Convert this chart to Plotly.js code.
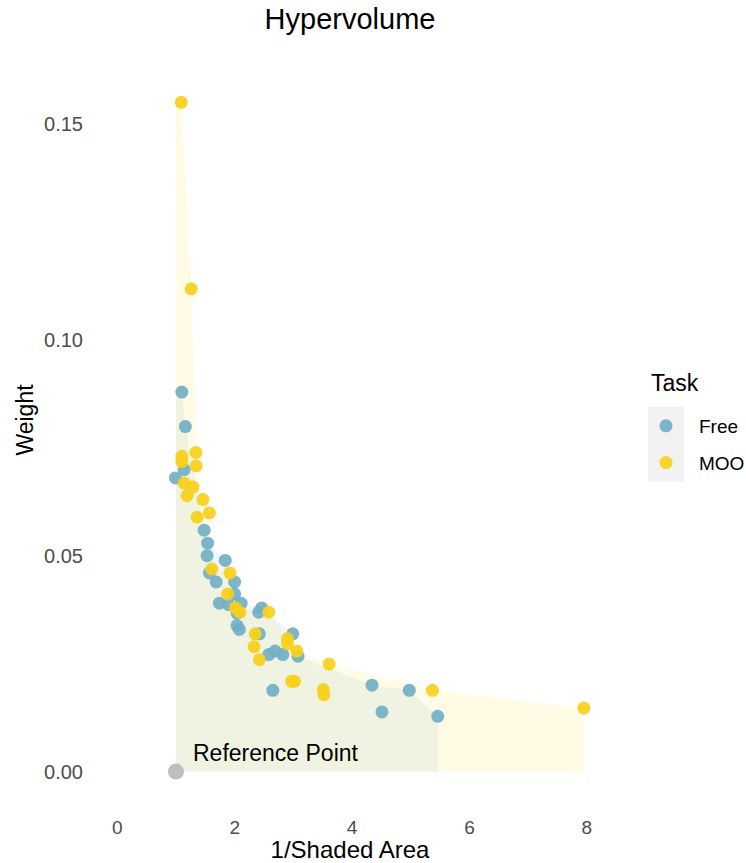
<!DOCTYPE html>
<html>
<head>
<meta charset="utf-8">
<script src="https://cdn.plot.ly/plotly-3.0.1.min.js"></script>
<style>html,body{margin:0;padding:0;background:#fff;}#chart{width:746px;height:863px;}</style>
</head>
<body>
<div id="chart"></div>
<script>
// ---- data ----
const freeX = [0.99, 1.10, 1.14, 1.16, 1.48, 1.53, 1.54, 1.57, 1.685, 1.74, 1.84, 1.89, 2.00, 2.00, 2.04, 2.04, 2.08, 2.11, 2.41, 2.42, 2.46, 2.58, 2.65, 2.69, 2.82, 2.99, 3.08, 4.34, 4.51, 4.975, 5.46];
const freeY = [0.0680, 0.0879, 0.0699, 0.0799, 0.0559, 0.0500, 0.0529, 0.0460, 0.0439, 0.0390, 0.0489, 0.0387, 0.0439, 0.0411, 0.0367, 0.0338, 0.0329, 0.0390, 0.0369, 0.0319, 0.0379, 0.0271, 0.0188, 0.0279, 0.0271, 0.0319, 0.0267, 0.0200, 0.0138, 0.0188, 0.0128];
const mooX = [1.09, 1.26, 1.10, 1.10, 1.34, 1.345, 1.14, 1.29, 1.19, 1.46, 1.57, 1.36, 1.61, 1.92, 1.88, 2.01, 2.09, 2.58, 2.35, 2.90, 2.90, 2.33, 3.06, 2.42, 3.61, 2.97, 3.02, 3.51, 3.52, 5.37, 7.95];
const mooY = [0.1550, 0.1118, 0.0730, 0.0718, 0.0739, 0.0708, 0.0668, 0.0659, 0.0639, 0.0630, 0.0599, 0.0589, 0.0469, 0.0460, 0.0411, 0.0379, 0.0369, 0.0369, 0.0319, 0.0308, 0.0296, 0.0289, 0.0279, 0.0259, 0.0249, 0.0209, 0.0209, 0.0190, 0.0178, 0.0188, 0.0147];
const refX = [1];
const refY = [0];
const taskNames = ["Free", "MOO"];
const xTicks = [0, 2, 4, 6, 8];
const yTicks = [0, 0.05, 0.10, 0.15];

// Pareto front (maximise both) -> hypervolume polygon from the reference point
function hvPolygon(xs, ys) {
  const pts = xs.map((x, i) => [x, ys[i]]).filter(p => p[0] >= refX[0] && p[1] >= refY[0]);
  const front = pts.filter(p => !pts.some(q => q !== p && q[0] >= p[0] && q[1] >= p[1] && (q[0] > p[0] || q[1] > p[1])));
  front.sort((a, b) => a[0] - b[0]);
  const px = [refX[0], refX[0]], py = [refY[0], front[0][1]];
  front.forEach(p => { px.push(p[0]); py.push(p[1]); });
  px.push(front[front.length - 1][0]); py.push(refY[0]);
  px.push(refX[0]); py.push(refY[0]);
  return {x: px, y: py};
}
const hvMoo = hvPolygon(mooX, mooY);
const hvFree = hvPolygon(freeX, freeY);

const cFree = '#72AFC6';
const cMoo = '#F7D01A';

const traces = [
  {x: hvMoo.x, y: hvMoo.y, type: 'scatter', mode: 'lines', fill: 'toself', fillcolor: 'rgba(255,215,0,0.1)', line: {width: 0}, showlegend: false, hoverinfo: 'skip'},
  {x: hvFree.x, y: hvFree.y, type: 'scatter', mode: 'lines', fill: 'toself', fillcolor: 'rgba(111,174,198,0.1)', line: {width: 0}, showlegend: false, hoverinfo: 'skip'},
  {x: freeX, y: freeY, type: 'scatter', mode: 'markers', name: taskNames[0], legendgroup: 'a', marker: {color: cFree, size: 13, opacity: 0.92}},
  {x: mooX, y: mooY, type: 'scatter', mode: 'markers', name: taskNames[1], legendgroup: 'b', marker: {color: cMoo, size: 13, opacity: 0.92}},
  {x: refX, y: refY, type: 'scatter', mode: 'markers', showlegend: false, marker: {color: '#BEBEBE', size: 16}}
];

const FONT = '"Liberation Sans", Arial, sans-serif';
const L = 94, R = 140, T = 35, B = 57.5;
const W = 746 - L - R, H = 863 - T - B;

const layout = {
  width: 746, height: 863,
  margin: {l: L, r: R, t: T, b: B, autoexpand: false},
  paper_bgcolor: '#fff', plot_bgcolor: '#fff',
  font: {family: FONT, color: '#000'},
  title: {text: 'Hypervolume', font: {size: 29, color: '#000', family: FONT}, x: 350/746, xref: 'container', xanchor: 'center', y: 1 - 19/863, yref: 'container', yanchor: 'middle'},
  xaxis: {range: [-0.3965, 8.3265], tickvals: xTicks, ticktext: xTicks.map(String), showgrid: false, zeroline: false, showline: false, ticks: '',
          tickfont: {size: 19, color: '#4D4D4D'}, ticklabelstandoff: 9, automargin: false,
          title: {text: '1/Shaded Area', font: {size: 24, color: '#000'}, standoff: 9}},
  yaxis: {range: [-0.00775, 0.1706], tickvals: yTicks, ticktext: yTicks.map(v => v.toFixed(2)), showgrid: false, zeroline: false, showline: false, ticks: '',
          tickfont: {size: 20, color: '#4D4D4D'}, ticklabelstandoff: 10, automargin: false,
          title: {text: 'Weight', font: {size: 23, color: '#000'}, standoff: 4}},
  legend: {x: 633/746, xref: 'container', y: 1 - 407/863, yref: 'container', xanchor: 'left', yanchor: 'top', bgcolor: 'rgba(0,0,0,0)',
           font: {size: 19, color: '#000'}, itemwidth: 56,
           traceorder: 'grouped', tracegroupgap: 9},
  shapes: [{type: 'rect', xref: 'paper', yref: 'paper', x0: (648 - L) / W, x1: (684 - L) / W, y0: (863 - B - 482) / H, y1: (863 - B - 407) / H, fillcolor: '#F2F2F2', line: {width: 0}, layer: 'below'}],
  annotations: [
    {x: 1.25, y: 0.0044, xref: 'x', yref: 'y', text: 'Reference Point', showarrow: false, xanchor: 'left', yanchor: 'middle', font: {size: 23, color: '#000'}},
    {x: (649 - L) / W, y: (863 - B - 383) / H, xref: 'paper', yref: 'paper', text: 'Task', showarrow: false, xanchor: 'left', yanchor: 'middle', font: {size: 23, color: '#000'}}
  ]
};

Plotly.newPlot('chart', traces, layout, {displayModeBar: false, staticPlot: true});
</script>
</body>
</html>
